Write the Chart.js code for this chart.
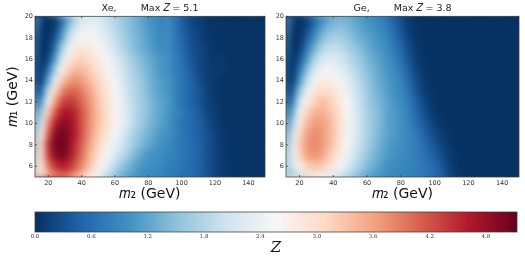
<!DOCTYPE html>
<html>
<head>
<meta charset="utf-8">
<script src="https://cdn.jsdelivr.net/npm/chart.js@4"></script>
<style>
  html, body { margin: 0; padding: 0; background: #fff; }
  canvas { position: absolute; }
</style>
</head>
<body>
<canvas id="xe" width="270" height="203" style="left:0;top:0"></canvas>
<canvas id="ge" width="255" height="203" style="left:270px;top:0"></canvas>
<canvas id="bar" width="525" height="52" style="left:0;top:205px"></canvas>
<script>
const m2Values = [12,16,20,24,28,32,36,40,44,48,52,56,60,64,68,72,76,80,84,88,92,96,100,104,108,112,116,120,124,128,132,136,140,144,148];
const m1Values = [5,6,7,8,9,10,11,12,13,14,15,16,17,18,19,20];

// one row per m1, one column per m2
const xeZ = [
  [1.7,2.7,3.3,3.7,3.9,3.9,3.6,3.3,2.9,2.5,2.1,1.8,1.5,1.3,1.15,1.05,.95,.9,.85,.8,.75,.7,.65,.6,.55,.42,.3,.18,.1,.06,.04,.02,.02,.02,.02],
  [1.9,2.9,3.9,4.4,4.6,4.5,4.2,3.8,3.4,3.0,2.6,2.25,1.9,1.6,1.4,1.2,1.05,1.0,.95,.9,.8,.75,.7,.6,.55,.45,.3,.2,.12,.06,.04,.02,.02,.02,.02],
  [1.7,3.0,4.3,4.85,5.0,4.8,4.4,4.0,3.55,3.15,2.8,2.5,2.2,1.9,1.65,1.4,1.2,1.05,1.0,.95,.85,.8,.72,.65,.55,.45,.32,.2,.1,.06,.03,.02,.02,.02,.02],
  [1.5,3.0,4.4,5.0,5.1,4.9,4.5,4.1,3.7,3.3,2.95,2.7,2.4,2.1,1.85,1.6,1.4,1.25,1.1,1.0,.95,.8,.7,.65,.55,.45,.3,.2,.1,.06,.03,.02,.02,.02,.02],
  [1.2,2.6,4.1,4.85,5.05,4.9,4.6,4.2,3.8,3.4,3.1,2.85,2.55,2.25,1.95,1.7,1.5,1.35,1.2,1.05,1.0,.85,.72,.62,.52,.42,.3,.2,.08,.05,.02,.02,.02,.02,.02],
  [.95,2.2,3.7,4.55,4.85,4.85,4.6,4.2,3.85,3.5,3.2,2.95,2.7,2.4,2.1,1.85,1.65,1.45,1.3,1.15,1.05,.85,.7,.6,.5,.4,.25,.15,.06,.03,.02,.02,.02,.02,.02],
  [.6,1.7,3.2,4.1,4.6,4.7,4.5,4.2,3.85,3.5,3.2,2.95,2.7,2.4,2.1,1.85,1.65,1.5,1.3,1.2,1.05,.9,.75,.6,.5,.35,.2,.12,.05,.03,.02,.02,.02,.02,.02],
  [.25,1.1,2.6,3.6,4.2,4.4,4.3,4.05,3.8,3.45,3.15,2.9,2.65,2.35,2.05,1.85,1.65,1.5,1.3,1.2,1.1,.85,.7,.55,.45,.3,.18,.1,.05,.03,.02,.02,.02,.02,.02],
  [.1,.5,1.95,3.0,3.75,4.05,4.05,3.9,3.65,3.35,3.1,2.85,2.6,2.3,2.0,1.8,1.6,1.45,1.25,1.15,1.05,.85,.7,.55,.45,.3,.15,.08,.04,.02,.02,.02,.02,.02,.02],
  [.2,.15,1.2,2.35,3.2,3.6,3.75,3.65,3.45,3.2,3.0,2.75,2.5,2.2,1.95,1.75,1.6,1.4,1.25,1.1,1.05,.85,.7,.55,.4,.25,.12,.08,.04,.02,.02,.02,.02,.02,.02],
  [.5,.05,.6,1.7,2.65,3.15,3.4,3.4,3.25,3.05,2.85,2.6,2.35,2.1,1.9,1.7,1.5,1.35,1.2,1.05,1.0,.8,.7,.5,.35,.2,.12,.08,.12,.03,.02,.02,.02,.02,.02],
  [.7,.02,.2,1.1,2.1,2.75,3.05,3.15,3.05,2.85,2.7,2.5,2.25,2.0,1.8,1.6,1.45,1.3,1.15,1.05,1.0,.8,.65,.45,.3,.2,.12,.06,.1,.03,.02,.02,.02,.02,.02],
  [.9,.02,.05,.6,1.6,2.3,2.75,2.9,2.85,2.7,2.5,2.3,2.05,1.85,1.65,1.45,1.3,1.2,1.05,.95,.95,.75,.6,.4,.25,.2,.1,.05,.03,.02,.02,.02,.02,.02,.02],
  [1.1,.02,.02,.3,1.1,1.9,2.35,2.6,2.65,2.55,2.35,2.15,1.95,1.75,1.6,1.4,1.3,1.15,1.0,.9,.95,.75,.55,.35,.25,.15,.08,.04,.02,.02,.02,.02,.02,.02,.02],
  [1.3,.1,0,.1,.7,1.45,2.0,2.3,2.4,2.35,2.2,2.05,1.85,1.7,1.5,1.4,1.25,1.1,1.0,.85,.95,.7,.5,.3,.2,.12,.06,.03,.02,.02,.02,.02,.02,.02,.02],
  [1.6,.3,0,.03,.4,1.05,1.6,2.0,2.15,2.15,2.05,1.9,1.75,1.6,1.5,1.35,1.2,1.05,.95,.8,.95,.7,.45,.2,.15,.1,.05,.03,.02,.02,.02,.02,.02,.02,.02],
];
const geZ = [
  [1.2,1.7,2.0,2.25,2.4,2.45,2.35,2.2,2.0,1.8,1.6,1.4,1.2,1.1,1.0,.95,.9,.85,.8,.78,.72,.68,.6,.45,.25,.1,.03,.01,.01,.01,.01,.01,.01,.01,.01],
  [1.4,2.1,2.7,3.15,3.3,3.3,3.1,2.85,2.55,2.25,1.95,1.7,1.45,1.3,1.15,1.0,.95,.9,.85,.8,.75,.65,.55,.4,.2,.08,.02,.01,.01,.01,.01,.01,.01,.01,.01],
  [1.35,2.3,3.1,3.55,3.7,3.65,3.4,3.1,2.8,2.45,2.15,1.85,1.6,1.4,1.25,1.1,1.0,.95,.9,.8,.72,.6,.45,.3,.15,.05,.01,.01,.01,.01,.01,.01,.01,.01,.01],
  [1.1,2.3,3.2,3.65,3.8,3.75,3.55,3.25,2.9,2.55,2.25,1.95,1.7,1.5,1.3,1.15,1.05,1.0,.9,.8,.68,.5,.35,.2,.08,.03,.01,.01,.01,.01,.01,.01,.01,.01,.01],
  [.8,2.05,3.0,3.55,3.75,3.75,3.55,3.3,3.0,2.65,2.3,2.0,1.75,1.55,1.35,1.2,1.1,1.0,.9,.78,.6,.4,.25,.12,.05,.02,.01,.01,.01,.01,.01,.01,.01,.01,.01],
  [.4,1.7,2.75,3.35,3.6,3.65,3.55,3.3,3.0,2.65,2.3,2.0,1.75,1.55,1.4,1.2,1.1,1.0,.88,.7,.5,.3,.15,.06,.03,.01,.01,.01,.01,.01,.01,.01,.01,.01,.01],
  [.15,1.3,2.4,3.05,3.4,3.5,3.4,3.2,2.95,2.6,2.3,2.0,1.75,1.55,1.4,1.2,1.1,1.0,.85,.62,.4,.2,.08,.03,.01,.01,.01,.01,.01,.01,.01,.01,.01,.01,.01],
  [.05,.8,2.0,2.7,3.1,3.3,3.3,3.1,2.85,2.55,2.25,1.95,1.7,1.5,1.35,1.2,1.05,.95,.8,.55,.3,.12,.05,.01,.01,.01,.01,.01,.01,.01,.01,.01,.01,.01,.01],
  [.05,.35,1.5,2.3,2.8,3.0,3.05,2.95,2.7,2.4,2.15,1.9,1.65,1.45,1.3,1.15,1.0,.9,.7,.45,.2,.08,.03,.01,.01,.01,.01,.01,.01,.01,.01,.01,.01,.01,.01],
  [.2,.1,1.0,1.85,2.4,2.7,2.8,2.7,2.5,2.3,2.05,1.8,1.6,1.4,1.25,1.1,1.0,.85,.6,.35,.15,.05,.01,.01,.01,.01,.01,.01,.01,.01,.01,.01,.01,.01,.01],
  [.4,.02,.6,1.4,2.0,2.35,2.5,2.45,2.3,2.1,1.9,1.7,1.5,1.35,1.2,1.05,.95,.75,.5,.25,.1,.03,.01,.01,.01,.01,.01,.01,.01,.01,.01,.01,.01,.01,.01],
  [.6,.02,.3,1.0,1.6,2.0,2.2,2.2,2.1,1.95,1.75,1.6,1.4,1.25,1.15,1.0,.85,.65,.4,.18,.06,.02,.01,.01,.01,.01,.01,.01,.01,.01,.01,.01,.01,.01,.01],
  [.9,.02,.1,.6,1.2,1.65,1.9,1.95,1.9,1.75,1.6,1.45,1.3,1.15,1.05,.95,.75,.55,.3,.12,.04,.01,.01,.01,.01,.01,.01,.01,.01,.01,.01,.01,.01,.01,.01],
  [1.1,.03,.03,.35,.85,1.3,1.6,1.7,1.7,1.6,1.45,1.3,1.2,1.1,1.0,.85,.65,.45,.22,.08,.02,.01,.01,.01,.01,.01,.01,.01,.01,.01,.01,.01,.01,.01,.01],
  [1.3,.1,.01,.15,.55,1.0,1.3,1.45,1.5,1.45,1.3,1.2,1.1,1.0,.9,.75,.55,.35,.15,.05,.01,.01,.01,.01,.01,.01,.01,.01,.01,.01,.01,.01,.01,.01,.01],
  [1.55,.3,0,.05,.35,.7,1.0,1.2,1.3,1.3,1.2,1.1,1.0,.95,.8,.65,.45,.25,.1,.03,.01,.01,.01,.01,.01,.01,.01,.01,.01,.01,.01,.01,.01,.01,.01],
];

const zMax = 5.13;
const rdBu = ['#053061','#2166ac','#4393c3','#92c5de','#d1e5f0','#f7f7f7','#fddbc7','#f4a582','#d6604d','#b2182b','#67001f'];

function zColor(z) {
  const t = Math.min(z / zMax, 1) * (rdBu.length - 1);
  const i = Math.min(Math.floor(t), rdBu.length - 2);
  const c = [1, 3, 5].map(k => {
    const a = parseInt(rdBu[i].substr(k, 2), 16);
    const b = parseInt(rdBu[i + 1].substr(k, 2), 16);
    return Math.round(a + (b - a) * (t - i));
  });
  return `rgb(${c})`;
}

// smooths the finished cells like an interpolated image, keeping edges from fading to white
const smoothCells = {
  id: 'smoothCells',
  afterDatasetsDraw(chart) {
    const {ctx, canvas, chartArea: a} = chart;
    const w = a.right - a.left, h = a.bottom - a.top, pad = 12;
    const tmp = document.createElement('canvas');
    tmp.width = w + 2 * pad;
    tmp.height = h + 2 * pad;
    const t = tmp.getContext('2d');
    t.drawImage(canvas, a.left, a.top, w, h, 0, 0, tmp.width, tmp.height);
    t.drawImage(canvas, a.left, a.top, w, h, pad, pad, w, h);
    ctx.save();
    ctx.beginPath();
    ctx.rect(a.left, a.top, w, h);
    ctx.clip();
    ctx.filter = 'blur(3px)';
    ctx.drawImage(tmp, a.left - pad, a.top - pad);
    ctx.restore();
  },
};

// box all round with short inward ticks on every side
const frame = {
  id: 'frame',
  afterDraw(chart) {
    const {ctx, chartArea: a, scales} = chart;
    ctx.save();
    ctx.strokeStyle = 'rgba(60,60,60,0.75)';
    ctx.lineWidth = 1;
    ctx.strokeRect(a.left, a.top, a.right - a.left, a.bottom - a.top);
    ctx.beginPath();
    scales.x.ticks.forEach(tk => {
      const x = scales.x.getPixelForValue(tk.value);
      ctx.moveTo(x, a.top); ctx.lineTo(x, a.top + 2);
      ctx.moveTo(x, a.bottom); ctx.lineTo(x, a.bottom - 2);
    });
    scales.y.ticks.forEach(tk => {
      const y = scales.y.getPixelForValue(tk.value);
      ctx.moveTo(a.left, y); ctx.lineTo(a.left + 2, y);
      ctx.moveTo(a.right, y); ctx.lineTo(a.right - 2, y);
    });
    ctx.stroke();
    ctx.restore();
  },
};

function panel(id, title, rows, leftPad, yWidth, rightPad, yTitle) {
  new Chart(document.getElementById(id), {
    type: 'bar',
    data: {
      datasets: rows.map((row, r) => ({
        data: m2Values.map(x => ({x, y: [m1Values[r] - 0.5, m1Values[r] + 0.5]})),
        backgroundColor: row.map(zColor),
        borderWidth: 0,
        grouped: false,
        barPercentage: 1,
        categoryPercentage: 1,
      })),
    },
    options: {
      responsive: false,
      animation: false,
      events: [],
      layout: {padding: {left: leftPad, right: rightPad}},
      plugins: {
        legend: {display: false},
        tooltip: {enabled: false},
        title: {
          display: true,
          fullSize: false,
          text: title,
          color: '#222',
          font: {family: 'DejaVu Sans', size: 9.5, weight: 'normal'},
          padding: {top: 3, bottom: 2},
        },
      },
      scales: {
        x: {
          type: 'linear',
          offset: false,
          min: 12,
          max: 150,
          afterFit(s) { s.height = 26; },
          grid: {display: false, offset: false, drawTicks: false},
          border: {display: false},
          ticks: {stepSize: 20, includeBounds: false, maxRotation: 0, padding: 2, color: '#333', font: {family: 'DejaVu Sans', size: 6.5}},
          title: {display: true, text: '𝑚₂ (GeV)', color: '#111', padding: {top: 0, bottom: 0}, font: {family: 'DejaVu Sans', size: 14}},
        },
        y: {
          type: 'linear',
          min: 5,
          max: 20,
          afterFit(s) { s.width = yWidth; },
          grid: {display: false, drawTicks: false},
          border: {display: false},
          ticks: {stepSize: 2, includeBounds: false, padding: 2, color: '#333', font: {family: 'DejaVu Sans', size: 6.5}},
          title: {display: !!yTitle, text: yTitle, color: '#111', padding: {top: 0, bottom: 0}, font: {family: 'DejaVu Sans', size: 14}},
        },
      },
    },
    plugins: [smoothCells, frame],
  });
}

panel('xe', 'Xe,        Max 𝑍 = 5.1', xeZ, 5, 30, 5, '𝑚₁ (GeV)');
panel('ge', 'Ge,        Max 𝑍 = 3.8', geZ, 0, 16, 6, '');

new Chart(document.getElementById('bar'), {
  type: 'bar',
  data: {
    labels: [''],
    datasets: [{
      data: [[0, zMax]],
      borderWidth: 0,
      barPercentage: 1,
      categoryPercentage: 1,
      backgroundColor(c) {
        const a = c.chart.chartArea;
        if (!a) return rdBu[0];
        const g = c.chart.ctx.createLinearGradient(a.left, 0, a.right, 0);
        rdBu.forEach((col, i) => g.addColorStop(i / (rdBu.length - 1), col));
        return g;
      },
    }],
  },
  options: {
    indexAxis: 'y',
    responsive: false,
    animation: false,
    events: [],
    layout: {padding: {left: 35, right: 8, top: 7}},
    plugins: {legend: {display: false}, tooltip: {enabled: false}},
    scales: {
      y: {display: false},
      x: {
        type: 'linear',
        min: 0,
        max: zMax,
        afterFit(s) { s.height = 25; },
        grid: {display: false, drawTicks: false},
        border: {display: false},
        ticks: {stepSize: 0.6, includeBounds: false, maxRotation: 0, padding: 1, color: '#333', callback: v => v.toFixed(1), font: {family: 'DejaVu Serif', size: 5.5}},
        title: {display: true, text: '𝑍', color: '#111', padding: {top: 0, bottom: 0}, font: {family: 'DejaVu Serif', size: 15}},
      },
    },
  },
  plugins: [{
    id: 'barFrame',
    afterDraw(chart) {
      const {ctx, chartArea: a} = chart;
      ctx.strokeStyle = 'rgba(60,60,60,0.75)';
      ctx.strokeRect(a.left, a.top, a.right - a.left, a.bottom - a.top);
    },
  }],
});
</script>
</body>
</html>
